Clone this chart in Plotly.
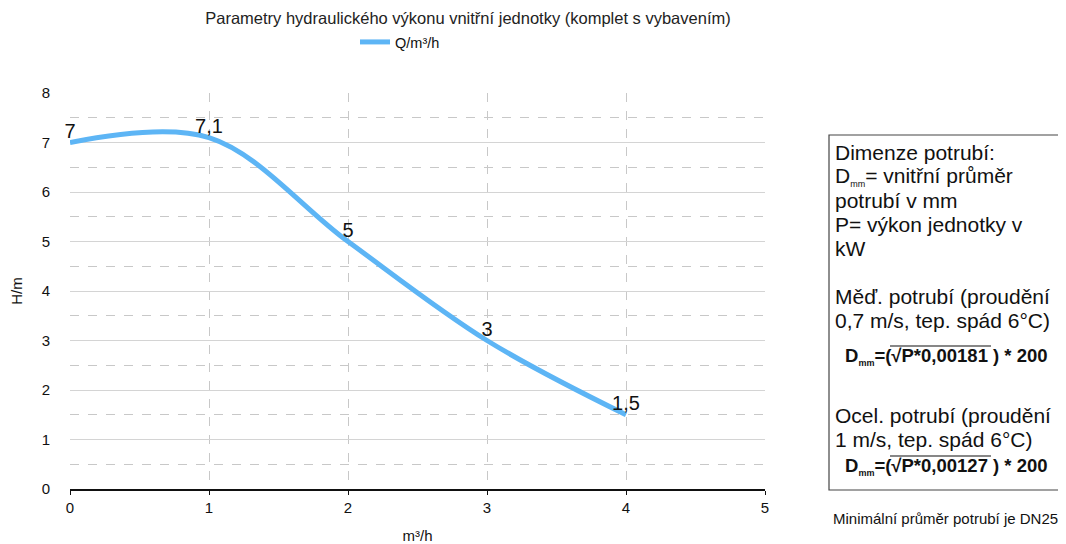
import plotly.graph_objects as go

# ---- data ----
flow_q = [0, 1, 2, 3, 4]                 # m3/h
head_h = [7, 7.1, 5, 3, 1.5]             # m
point_labels = ["7", "7,1", "5", "3", "1,5"]
x_ticks = [0, 1, 2, 3, 4, 5]
y_ticks = [0, 1, 2, 3, 4, 5, 6, 7, 8]

title_text = "Parametry hydraulického výkonu vnitřní jednotky (komplet s vybavením)"
series_name = "Q/m³/h"
x_title = "m³/h"
y_title = "H/m"

SUB = '<sub><span style="font-size:9px">mm</span></sub>'
info_lines = ["Dimenze potrubí:",
              "D" + SUB + "= vnitřní průměr",
              "potrubí v mm",
              "P= výkon jednotky v",
              "kW",
              "Měď. potrubí (proudění",
              "0,7 m/s, tep. spád 6°C)",
              "Ocel. potrubí (proudění",
              "1 m/s, tep. spád 6°C)"]
info_line_y = [152, 176, 200, 224, 248, 296, 320, 415, 439]
formulas = ["<b>D" + SUB + "=(√P*0,00181 ) * 200</b>",
            "<b>D" + SUB + "=(√P*0,00127 ) * 200</b>"]
formula_y = [356, 466]
footer = "Minimální průměr potrubí je DN25"

FONT = "Liberation Sans, Arial, sans-serif"
OFF = 8                      # page body margin
W, H = 1066 - OFF, 544 - OFF
# plot area in screen pixels
L, R, T, B = 70, 765, 93, 489

def px(x):
    return (x - L) / (R - L)

def py(y):
    return (B - y) / (B - T)

fig = go.Figure()
fig.add_trace(go.Scatter(
    x=flow_q, y=head_h, mode="lines+text", name=series_name,
    line=dict(color="#5DB5F5", width=5, shape="spline", smoothing=1),
    text=point_labels, textposition="top center",
    textfont=dict(size=20, color="#111111", family=FONT),
    cliponaxis=False,
))

fig.update_layout(
    width=W, height=H,
    margin=dict(l=L - OFF, r=1066 - R, t=T - OFF, b=544 - B, autoexpand=False),
    paper_bgcolor="white", plot_bgcolor="white",
    font=dict(family=FONT, color="#111111", size=15),
    title=dict(text=title_text, x=(468 - OFF) / W, xanchor="center",
               y=1 - (18 - OFF) / H, yanchor="middle",
               font=dict(size=16.5, color="#222222")),
    showlegend=True,
    legend=dict(orientation="h", x=px(400), xanchor="center", y=py(42), yanchor="middle",
                font=dict(size=14.5), itemwidth=30, bgcolor="rgba(0,0,0,0)"),
    xaxis=dict(range=[0, 5], tickvals=x_ticks, showgrid=True, gridcolor="#C8C8C8",
               griddash="dash", gridwidth=1, zeroline=False, showline=True,
               linecolor="#111111", linewidth=2, ticks="outside", ticklen=4,
               tickcolor="#111111", tickfont=dict(size=15), fixedrange=True,
               automargin=False,
               title=dict(text=x_title, font=dict(size=15), standoff=15)),
    yaxis=dict(range=[0, 8], tickvals=y_ticks, showgrid=True, gridcolor="#D4D4D4",
               gridwidth=1, zeroline=False, showline=False, ticks="",
               tickfont=dict(size=15), ticklabelstandoff=19, automargin=False,
               minor=dict(dtick=0.5, showgrid=True, gridcolor="#C8C8C8", griddash="dash"),
               title=dict(text=y_title, font=dict(size=15), standoff=26)),
)

# info box
fig.add_shape(type="rect", xref="paper", yref="paper",
              x0=px(829), x1=px(1063), y0=py(490), y1=py(135),
              line=dict(color="#444444", width=1.2), fillcolor="rgba(0,0,0,0)")

def add_text(text, x, ycenter, size=21, anchor="left"):
    fig.add_annotation(text=text, xref="paper", yref="paper", x=px(x), y=py(ycenter),
                       xanchor=anchor, yanchor="middle", align=anchor, showarrow=False,
                       font=dict(size=size, color="#111111", family=FONT))

for line, yc in zip(info_lines, info_line_y):
    add_text(line, 833, yc)
for f, yc in zip(formulas, formula_y):
    add_text(f, 843, yc, size=18.5)
    # overline of the square root
    fig.add_shape(type="line", xref="paper", yref="paper",
                  x0=px(890), x1=px(991), y0=py(yc - 10), y1=py(yc - 10),
                  line=dict(color="#111111", width=1.2))
add_text(footer, 945, 518, size=15, anchor="center")

fig.write_html("out.html")
